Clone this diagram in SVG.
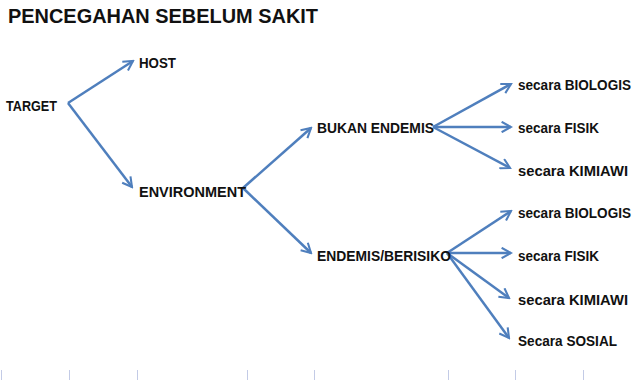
<svg xmlns="http://www.w3.org/2000/svg" width="636" height="382" viewBox="0 0 636 382">
<defs>
<style>
.t{font-family:"Liberation Sans",Arial,sans-serif;font-weight:bold;font-size:15px;fill:#111}
.s{font-size:14px}
.title{font-family:"Liberation Sans",Arial,sans-serif;font-weight:bold;font-size:21px;fill:#111}
.c{stroke:#4f7fbd;stroke-width:2.5;fill:none;marker-end:url(#ah)}
.g{stroke:#c3cbe6;stroke-width:1}
</style>
<marker id="ah" viewBox="0 0 12 12" refX="10" refY="6" markerWidth="5" markerHeight="5" orient="auto" markerUnits="strokeWidth">
<path d="M1,1 L10,6 L1,11" fill="none" stroke="#4f7fbd" stroke-width="2"/>
</marker>
</defs>
<rect width="636" height="382" fill="#fff"/>
<g id="grid">
<line class="g" x1="1.5" y1="370" x2="1.5" y2="380"/>
<line class="g" x1="69.5" y1="370" x2="69.5" y2="380"/>
<line class="g" x1="137.5" y1="370" x2="137.5" y2="380"/>
<line class="g" x1="247.5" y1="370" x2="247.5" y2="380"/>
<line class="g" x1="314.5" y1="370" x2="314.5" y2="380"/>
<line class="g" x1="448.5" y1="370" x2="448.5" y2="380"/>
<line class="g" x1="515.5" y1="370" x2="515.5" y2="380"/>
<line class="g" x1="583.5" y1="370" x2="583.5" y2="380"/>
</g>
<g id="title"><text class="title" x="8" y="23" textLength="310" lengthAdjust="spacingAndGlyphs">PENCEGAHAN SEBELUM SAKIT</text></g>
<g id="connectors">
<line class="c" x1="68" y1="103" x2="133" y2="61"/>
<line class="c" x1="68" y1="103" x2="132" y2="187"/>
<line class="c" x1="243" y1="188" x2="311" y2="128"/>
<line class="c" x1="243" y1="188" x2="311" y2="253"/>
<line class="c" x1="433" y1="127" x2="511" y2="84"/>
<line class="c" x1="433" y1="127" x2="511" y2="127"/>
<line class="c" x1="433" y1="127" x2="510" y2="168"/>
<line class="c" x1="447" y1="253" x2="511" y2="211"/>
<line class="c" x1="447" y1="253" x2="511" y2="253"/>
<line class="c" x1="447" y1="253" x2="509" y2="298"/>
<line class="c" x1="447" y1="253" x2="509" y2="338"/>
</g>
<g id="target"><text class="t" x="6" y="111" textLength="51" lengthAdjust="spacingAndGlyphs">TARGET</text></g>
<g id="host"><text class="t" x="139" y="68" textLength="37" lengthAdjust="spacingAndGlyphs">HOST</text></g>
<g id="environment"><text class="t" x="139" y="197" textLength="107" lengthAdjust="spacingAndGlyphs">ENVIRONMENT</text></g>
<g id="bukan-endemis"><text class="t" x="317" y="133" textLength="117" lengthAdjust="spacingAndGlyphs">BUKAN ENDEMIS</text></g>
<g id="endemis-berisiko"><text class="t" x="317" y="261" textLength="134" lengthAdjust="spacingAndGlyphs">ENDEMIS/BERISIKO</text></g>
<g id="be-biologis"><text class="t s" x="518" y="90" textLength="113" lengthAdjust="spacingAndGlyphs">secara BIOLOGIS</text></g>
<g id="be-fisik"><text class="t" x="518" y="133" textLength="81" lengthAdjust="spacingAndGlyphs">secara FISIK</text></g>
<g id="be-kimiawi"><text class="t" x="518" y="176" textLength="110" lengthAdjust="spacingAndGlyphs">secara KIMIAWI</text></g>
<g id="eb-biologis"><text class="t s" x="518" y="218" textLength="113" lengthAdjust="spacingAndGlyphs">secara BIOLOGIS</text></g>
<g id="eb-fisik"><text class="t" x="518" y="261" textLength="81" lengthAdjust="spacingAndGlyphs">secara FISIK</text></g>
<g id="eb-kimiawi"><text class="t" x="518" y="305" textLength="110" lengthAdjust="spacingAndGlyphs">secara KIMIAWI</text></g>
<g id="eb-sosial"><text class="t" x="518" y="346" textLength="99" lengthAdjust="spacingAndGlyphs">Secara SOSIAL</text></g>
</svg>
